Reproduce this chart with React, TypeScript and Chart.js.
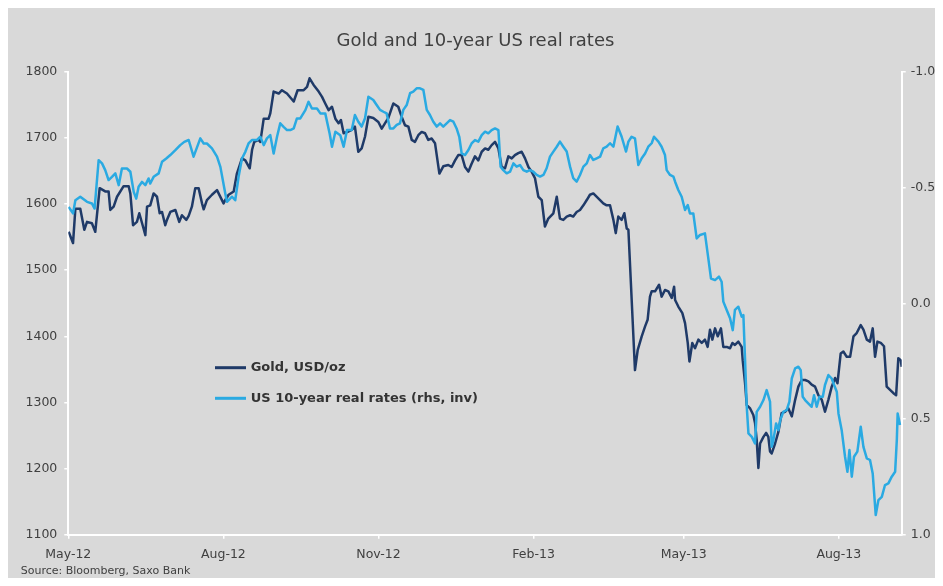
import React, { useEffect, useRef } from 'react';
import { Chart, registerables } from 'chart.js';

Chart.register(...registerables);

const W = 935;
const H = 578;

const titleText = 'Gold and 10-year US real rates';
const sourceText = 'Source: Bloomberg, Saxo Bank';
const goldLabel = 'Gold, USD/oz';
const rateLabel = 'US 10-year real rates (rhs, inv)';

// x positions are calendar days counted from the May-12 tick
const tickDays = [0, 92, 184, 276, 365, 457];
const tickLabels = ['May-12', 'Aug-12', 'Nov-12', 'Feb-13', 'May-13', 'Aug-13'];
const xMax = 494.3;

const goldDays = [
  0.2, 2.8, 4.2, 7.1, 9.5, 11.1, 14.0, 16.0, 18.6, 21.9, 23.9, 24.9, 26.9, 28.9, 32.8, 35.8, 36.8, 38.4, 40.7, 42.1,
  44.3, 45.7, 46.7, 48.6, 50.6, 52.6, 54.2, 55.6, 57.5, 58.5, 60.5, 63.5, 65.8, 67.4, 70.0, 71.4, 73.3, 75.3, 77.3, 79.3,
  80.3, 82.2, 85.2, 88.2, 92.1, 93.1, 95.1, 98.1, 100.0, 103.0, 105.0, 107.6, 109.0, 110.3, 112.9, 113.9, 115.9, 118.8, 119.8, 121.8,
  124.8, 126.7, 129.7, 133.7, 136.0, 139.6, 141.6, 143.1, 145.5, 148.5, 150.5, 152.4, 154.4, 156.4, 158.4, 160.3, 161.7, 163.3, 165.7,
  168.1, 170.0, 172.0, 174.0, 176.0, 178.0, 180.9, 183.9, 185.9, 187.8, 189.8, 192.8, 195.7, 197.7, 199.7, 201.7, 203.7, 205.6, 207.6,
  209.6, 211.6, 213.5, 215.5, 217.5, 220.1, 222.4, 225.4, 227.4, 229.4, 231.3, 233.3, 235.3, 237.3, 239.2, 241.2, 243.2, 245.2, 247.2,
  249.1, 251.1, 253.1, 255.1, 257.0, 259.0, 261.0, 263.0, 264.9, 266.9, 268.9, 270.9, 272.9, 274.8, 276.8, 278.8, 280.8, 282.7, 284.7,
  287.7, 289.7, 291.6, 293.6, 295.6, 297.6, 299.5, 301.5, 303.5, 305.5, 307.5, 309.4, 311.4,
  315.4, 317.3, 319.3, 321.3, 323.3, 324.7, 326.2, 328.2, 329.8, 331.2, 332.2, 336.1, 337.7, 340.1, 342.1, 343.6, 345.0, 346.0, 348.0,
  350.4, 351.9, 353.9, 355.9, 357.9, 359.3, 359.9, 361.8, 364.2, 365.8, 367.4, 368.4, 370.1, 371.7, 373.7, 375.7, 377.6, 379.2, 380.6,
  382.0, 383.6, 385.2, 387.1, 388.5, 390.5, 392.5, 393.9, 395.4, 397.4, 399.4,
  400.0, 401.4, 402.4, 404.4, 406.3, 407.3, 408.3, 409.3, 410.3, 412.3, 413.9, 415.2, 416.2, 417.2, 419.2, 421.2, 423.1, 425.1, 427.1,
  429.1, 431.1, 433.0, 435.0, 437.0, 439.0, 440.9, 442.9, 444.9, 446.9, 448.8, 450.8, 452.8, 454.8, 456.2, 458.1, 459.7, 461.7, 463.7,
  465.7, 467.6, 470.0, 471.6, 473.6, 475.5, 477.1, 478.5, 479.9, 481.9, 483.8, 485.4, 487.4, 489.4, 491.0, 492.3, 493.7, 494.3,
];

const goldValues = [
  1558, 1541, 1593, 1593, 1561, 1573, 1571, 1558, 1624, 1619, 1619, 1591, 1596, 1611, 1627, 1627, 1616, 1568, 1573, 1586,
  1566, 1553, 1596, 1598, 1616, 1611, 1586, 1588, 1568, 1576, 1588, 1591, 1573, 1583, 1576, 1582, 1596, 1624, 1624, 1601,
  1592, 1606, 1614, 1621, 1601, 1606, 1614, 1619, 1646, 1669, 1666, 1654, 1682, 1694, 1697, 1694, 1729, 1729, 1737, 1770,
  1767, 1772, 1767, 1755, 1772, 1772, 1777, 1790, 1780, 1770, 1762, 1752, 1742, 1747, 1729, 1722, 1727, 1707, 1709,
  1712, 1717, 1679, 1684, 1702, 1732, 1730, 1724, 1714, 1722, 1730, 1752, 1747, 1732, 1719, 1717, 1697, 1694, 1704,
  1709, 1707, 1697, 1699, 1692, 1646, 1657, 1659, 1656, 1666, 1674, 1674, 1656, 1649, 1661, 1672, 1666, 1679, 1684,
  1682, 1689, 1694, 1684, 1656, 1654, 1672, 1669, 1674, 1677, 1679, 1669, 1656, 1649, 1639, 1611, 1606, 1566, 1578,
  1586, 1611, 1578, 1576, 1581, 1583, 1581, 1588, 1591, 1598, 1606, 1614, 1616,
  1606, 1601, 1598, 1598, 1576, 1556, 1581, 1576, 1586, 1563, 1561, 1349, 1379, 1400, 1415, 1425, 1460, 1468, 1468,
  1478, 1460, 1470, 1468, 1458, 1475, 1455, 1445, 1435, 1420, 1390, 1362, 1390, 1382, 1395, 1390, 1395, 1384, 1410,
  1395, 1412, 1400, 1412, 1384, 1384, 1382, 1390, 1387, 1392, 1384,
  1364, 1329, 1296, 1291, 1281, 1269, 1243, 1201, 1238, 1248, 1254, 1248, 1226, 1223, 1238, 1256, 1284, 1286, 1291,
  1279, 1304, 1324, 1334, 1334, 1332, 1327, 1324, 1311, 1304, 1286, 1304, 1324, 1337, 1329, 1374, 1377, 1369, 1369,
  1400, 1405, 1417, 1410, 1395, 1392, 1412, 1369, 1392, 1390, 1385, 1324, 1319, 1314, 1311, 1367, 1364, 1354,
];

const rateDays = [
  0.2, 2.8, 4.2, 7.1, 11.1, 14.0, 15.6, 18.0, 20.0, 21.9, 23.9, 25.9, 27.9, 29.9, 31.8, 34.8, 36.8, 38.8, 40.3, 41.7,
  43.7, 45.7, 47.6, 48.6, 50.6, 53.6, 55.6, 58.1, 60.5, 63.5, 66.4, 68.8, 71.4, 74.3, 78.3, 80.3, 82.2, 85.2, 88.2, 90.2,
  93.1, 94.1, 97.1, 99.0, 101.0, 103.0, 105.0, 106.9, 108.9, 111.9, 113.9, 115.9, 117.8, 119.8, 121.8, 123.8, 125.7, 127.7, 129.7, 131.7,
  133.7, 135.6, 137.6, 140.6, 142.5, 144.5, 147.5, 149.5, 152.4, 155.0, 156.4, 158.4, 161.3, 163.3, 165.3,
  168.1, 170.0, 172.0, 174.0, 176.0, 178.0, 180.9, 182.9, 184.9, 186.9, 188.8, 190.8, 192.8, 194.8, 196.7, 198.7, 200.7, 202.7, 204.6,
  206.6, 208.6, 210.6, 212.6, 214.5, 216.5, 218.5, 220.5, 222.4, 224.4, 226.4, 228.4, 230.3, 231.9, 233.3, 235.3, 237.3, 239.2, 241.2,
  243.2, 245.2, 247.2, 249.1, 251.1, 253.1, 255.1, 256.4, 258.0, 260.0, 262.0, 264.0, 265.9, 267.9, 269.9, 271.9, 273.8, 275.8, 277.8,
  279.8, 281.8, 283.7, 285.7, 287.7, 289.7, 291.6, 293.6, 295.6, 297.6, 299.5, 301.5, 303.5, 305.5, 307.5, 309.4, 311.4, 313.4,
  315.4, 317.3, 319.3, 321.3, 323.3, 325.8, 328.2, 330.8, 332.2, 334.1, 336.1, 338.1, 340.1, 342.1, 344.0, 346.0, 347.4, 350.0, 351.9,
  353.9, 354.9, 356.9, 358.9, 359.9, 361.8, 363.8, 365.8, 367.4, 368.7, 370.7, 372.7, 374.7, 377.6, 379.6, 381.2, 383.6, 385.9, 387.5,
  388.5, 390.5, 392.5, 394.1, 395.4, 397.4, 399.4, 400.4,
  401.4, 402.4, 403.4, 405.4, 407.3, 408.3, 410.3, 412.3, 414.2, 416.2, 417.2, 418.2, 419.8, 421.2, 422.2, 424.1, 426.1, 427.7, 429.1,
  431.1, 433.0, 434.4, 435.6, 437.0, 439.0, 440.9, 442.3, 443.9, 445.5, 447.5, 448.8, 450.8, 452.8, 454.2, 455.8, 456.8, 458.7, 460.7,
  462.1, 463.3, 464.7, 466.0, 468.0, 470.0, 471.6, 473.6, 475.5, 477.1, 478.9, 480.5, 482.5, 484.4, 486.4, 488.4, 490.4, 491.4, 491.9, 493.3,
];

const rateValues = [
  -0.416, -0.388, -0.445, -0.46, -0.438, -0.431, -0.409, -0.618, -0.604, -0.575, -0.532, -0.546, -0.561, -0.51, -0.582, -0.582, -0.568, -0.481, -0.452, -0.503,
  -0.524, -0.51, -0.539, -0.517, -0.546, -0.561, -0.611, -0.625, -0.64, -0.661, -0.683, -0.697, -0.705, -0.633, -0.712, -0.69, -0.69, -0.669, -0.633, -0.589,
  -0.474, -0.438, -0.46, -0.445, -0.546, -0.625, -0.654, -0.69, -0.705, -0.705, -0.719, -0.683, -0.712, -0.726, -0.647, -0.719, -0.777, -0.762, -0.748, -0.748,
  -0.755, -0.798, -0.798, -0.834, -0.87, -0.841, -0.841, -0.82, -0.82, -0.733, -0.676, -0.741, -0.726, -0.676, -0.748,
  -0.748, -0.813, -0.784, -0.763, -0.799, -0.892, -0.878, -0.856, -0.835, -0.827, -0.82, -0.755, -0.755, -0.77, -0.777, -0.835, -0.856, -0.907, -0.914,
  -0.928, -0.928, -0.921, -0.835, -0.813, -0.784, -0.763, -0.777, -0.763, -0.777, -0.791, -0.784, -0.755, -0.719, -0.647, -0.64, -0.662, -0.69, -0.705,
  -0.698, -0.726, -0.741, -0.734, -0.748, -0.755, -0.748, -0.59, -0.575, -0.561, -0.568, -0.604, -0.59, -0.597, -0.575, -0.568, -0.575, -0.568, -0.554,
  -0.547, -0.554, -0.583, -0.633, -0.655, -0.676, -0.698, -0.676, -0.655, -0.59, -0.54, -0.525, -0.554, -0.59, -0.604, -0.64, -0.619, -0.626,
  -0.633, -0.669, -0.676, -0.691, -0.676, -0.763, -0.719, -0.655, -0.698, -0.719, -0.712, -0.597, -0.626, -0.647, -0.676, -0.691, -0.719, -0.698, -0.676,
  -0.64, -0.575, -0.554, -0.547, -0.525, -0.489, -0.46, -0.403, -0.424, -0.388, -0.388, -0.28, -0.295, -0.302, -0.194, -0.107, -0.1, -0.115, -0.093,
  -0.007, 0.029, 0.065, 0.116, 0.029, 0.015, 0.058, 0.051,
  0.245, 0.447, 0.562, 0.577, 0.605, 0.469, 0.447, 0.418, 0.375, 0.425, 0.62, 0.591, 0.519, 0.548, 0.505, 0.469, 0.461, 0.425, 0.325,
  0.281, 0.274, 0.289, 0.404, 0.418, 0.433, 0.447, 0.397, 0.447, 0.404, 0.404, 0.353, 0.31, 0.325, 0.353, 0.382, 0.476, 0.548, 0.663,
  0.728, 0.634, 0.749, 0.663, 0.641, 0.533, 0.62, 0.67, 0.677, 0.735, 0.915, 0.85, 0.836, 0.785, 0.778, 0.749, 0.728, 0.591, 0.476, 0.526,
];

const goldColor = '#1f3a68';
const rateColor = '#2aaae2';
const textColor = '#404040';
const bgColor = '#d9d9d9';
const fontFamily = '"DejaVu Sans", Verdana, sans-serif';
const axisFont = { family: fontFamily, size: 12.5 };

const overlayPlugin = {
  id: 'overlay',
  afterDraw(chart: any) {
    const ctx = chart.ctx;
    ctx.save();
    // in-plot legend
    const items = [
      { label: goldLabel, color: goldColor, y: 359.7 },
      { label: rateLabel, color: rateColor, y: 390.3 },
    ];
    ctx.font = 'bold 13px ' + fontFamily;
    ctx.textBaseline = 'middle';
    items.forEach((it) => {
      ctx.strokeStyle = it.color;
      ctx.lineWidth = 3;
      ctx.beginPath();
      ctx.moveTo(207, it.y);
      ctx.lineTo(238, it.y);
      ctx.stroke();
      ctx.fillStyle = '#333333';
      ctx.fillText(it.label, 242.7, it.y);
    });
    // source note
    ctx.font = '11px ' + fontFamily;
    ctx.fillStyle = textColor;
    ctx.fillText(sourceText, 12.7, 563);
    ctx.restore();
  },
};

export default function App() {
  const ref = useRef<HTMLCanvasElement>(null);
  useEffect(() => {
    const chart = new Chart(ref.current as HTMLCanvasElement, {
      type: 'line',
      data: {
        datasets: [
          {
            label: rateLabel,
            data: rateDays.map((d, i) => ({ x: d, y: rateValues[i] })),
            borderColor: rateColor,
            borderWidth: 2.5,
            pointRadius: 0,
            tension: 0,
            yAxisID: 'y1',
            order: 0,
            borderJoinStyle: 'round',
          },
          {
            label: goldLabel,
            data: goldDays.map((d, i) => ({ x: d, y: goldValues[i] })),
            borderColor: goldColor,
            borderWidth: 2.5,
            pointRadius: 0,
            tension: 0,
            yAxisID: 'y',
            order: 1,
            borderJoinStyle: 'round',
          },
        ],
      },
      options: {
        responsive: false,
        animation: false,
        devicePixelRatio: 1,
        layout: { padding: 0 },
        plugins: {
          legend: { display: false },
          tooltip: { enabled: false },
          title: {
            display: true,
            text: titleText,
            color: textColor,
            font: { family: fontFamily, size: 18, weight: 'normal', lineHeight: 1.2 },
            padding: { top: 22.9, bottom: 19.2 },
          },
        },
        scales: {
          x: {
            type: 'linear',
            min: 0,
            max: xMax,
            afterBuildTicks: (s: any) => {
              s.ticks = tickDays.map((v) => ({ value: v }));
            },
            afterFit: (s: any) => {
              s.height = 51.2;
            },
            ticks: {
              autoSkip: false,
              maxRotation: 0,
              padding: 8,
              color: textColor,
              font: axisFont,
              callback: (_v: any, i: number) => tickLabels[i],
            },
            grid: { drawOnChartArea: false, color: '#ffffff', tickLength: 4, lineWidth: 1.5 },
            border: { color: '#ffffff', width: 2 },
          },
          y: {
            position: 'left',
            min: 1100,
            max: 1800,
            afterFit: (s: any) => {
              s.width = 60.3;
            },
            ticks: {
              stepSize: 100,
              padding: 7,
              color: textColor,
              font: axisFont,
              callback: (v: any) => String(v),
            },
            grid: { drawOnChartArea: false, color: '#ffffff', tickLength: 4, lineWidth: 1.5 },
            border: { color: '#ffffff', width: 2 },
          },
          y1: {
            position: 'right',
            min: -1,
            max: 1,
            reverse: true,
            afterFit: (s: any) => {
              s.width = 41.3;
            },
            ticks: {
              stepSize: 0.5,
              padding: 5,
              color: textColor,
              font: axisFont,
              callback: (v: any) => Number(v).toFixed(1),
            },
            grid: { drawOnChartArea: false, color: '#ffffff', tickLength: 4, lineWidth: 1.5 },
            border: { color: '#ffffff', width: 2 },
          },
        },
      },
      plugins: [overlayPlugin],
    } as any);
    return () => chart.destroy();
  }, []);
  return (
    <>
      <style>{'html, body { overflow: hidden; }'}</style>
      <div style={{ width: W, height: H, background: bgColor, marginBottom: -8 }}>
        <canvas ref={ref} width={W} height={H} style={{ display: 'block', width: W, height: H }} />
      </div>
    </>
  );
}
